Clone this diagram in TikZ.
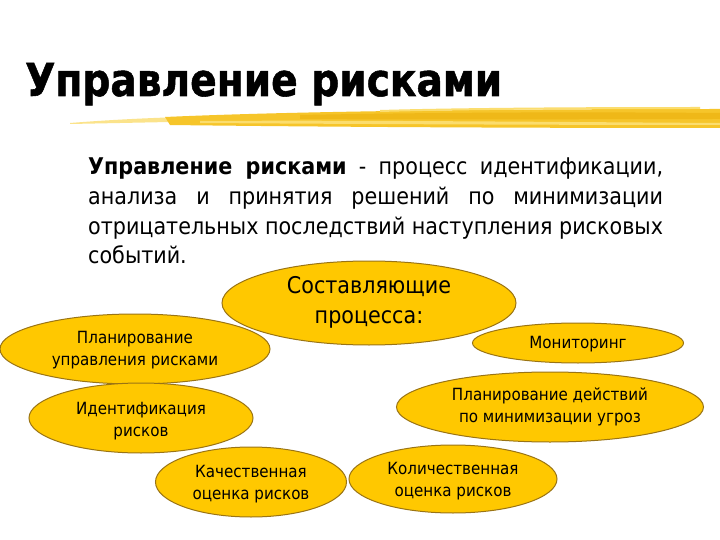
\documentclass[tikz,border=0pt]{standalone}
\usepackage{graphicx}
\usepackage{fontspec}
\setmainfont{DejaVu Sans Condensed}
\newfontfamily\titlefont{DejaVu Sans}[FakeBold=1.2]
\usetikzlibrary{shapes.geometric}
\definecolor{blobfill}{HTML}{FFC800}
\definecolor{blobline}{HTML}{9A7414}
\definecolor{brushA}{HTML}{F6C52A}
\definecolor{brushB}{HTML}{FBDD6E}
\definecolor{brushC}{HTML}{EFB818}
\begin{document}
\begin{tikzpicture}[x=1pt,y=-1pt,
  blob/.style={ellipse, draw=blobline, fill=blobfill, line width=1pt, inner sep=0pt},
  lbl/.style={align=center, inner sep=0pt, font=\fontsize{16.8}{22}\selectfont},
  bodyline/.style={anchor=base west, inner sep=0pt, font=\fontsize{23}{28}\selectfont}]
\useasboundingbox (0,0) rectangle (720,540);
\fill[white] (0,0) rectangle (720,540);
% title
\node[anchor=base west, inner sep=0pt] (title) at (25,96) {\resizebox{477pt}{33pt}{\titlefont\bfseries Управление рисками}};
% brush stroke
\fill[brushB, opacity=0.8] (70,123) .. controls (120,119) and (170,117) .. (220,116) -- (220,121) .. controls (170,122) and (120,123) .. (70,124) -- cycle;
\fill[brushA] (165,117) .. controls (300,111) and (500,109) .. (720,109) -- (720,128) .. controls (520,128) and (330,127) .. (170,125) -- cycle;
\fill[brushC] (300,115) .. controls (450,112) and (600,112) .. (720,113) -- (720,119) .. controls (600,119) and (450,120) .. (300,119) -- cycle;
\fill[brushB] (200,121) .. controls (350,120) and (550,122) .. (720,123) -- (720,125) .. controls (550,125) and (350,124) .. (200,123) -- cycle;
\fill[brushB] (380,110) .. controls (450,108) and (560,107) .. (700,107) -- (700,109) .. controls (560,109) and (450,110) .. (380,112) -- cycle;
% body text
\node[bodyline] (l1) at (88,175) {\makebox[575pt][s]{\textbf{Управление рисками} - процесс идентификации,}};
\node[bodyline] (l2) at (88,205) {\makebox[575pt][s]{анализа и принятия решений по минимизации}};
\node[bodyline] (l3) at (88,234) {\makebox[575pt][s]{отрицательных последствий  наступления рисковых}};
\node[bodyline] (l4) at (88,263) {событий.};
% ellipses
\node[blob, minimum width=270pt, minimum height=70pt] (plan) at (135,349) {};
\node[blob, minimum width=224pt, minimum height=70pt] (ident) at (141,418) {};
\node[blob, minimum width=191pt, minimum height=70pt] (kach) at (251,482) {};
\node[blob, minimum width=208pt, minimum height=68pt] (kol) at (453,479) {};
\node[blob, minimum width=294pt, minimum height=84pt] (proc) at (369,303) {};
\node[blob, minimum width=211pt, minimum height=40pt] (mon) at (578,343) {};
\node[blob, minimum width=307pt, minimum height=70pt] (pland) at (550,407) {};
% labels
\node[lbl, font=\fontsize{23}{30}\selectfont] (procT) at (369,302) {Составляющие\\процесса:};
\node[lbl] (planT) at (135,350) {Планирование\\управления рисками};
\node[lbl] (identT) at (141,421) {Идентификация\\рисков};
\node[lbl] (kachT) at (251,484) {Качественная\\оценка рисков};
\node[lbl] (kolT) at (453,481) {Количественная\\оценка рисков};
\node[lbl] (monT) at (578,344) {Мониторинг};
\node[lbl] (plandT) at (550,407) {Планирование действий\\по минимизации угроз};
\end{tikzpicture}
\end{document}
